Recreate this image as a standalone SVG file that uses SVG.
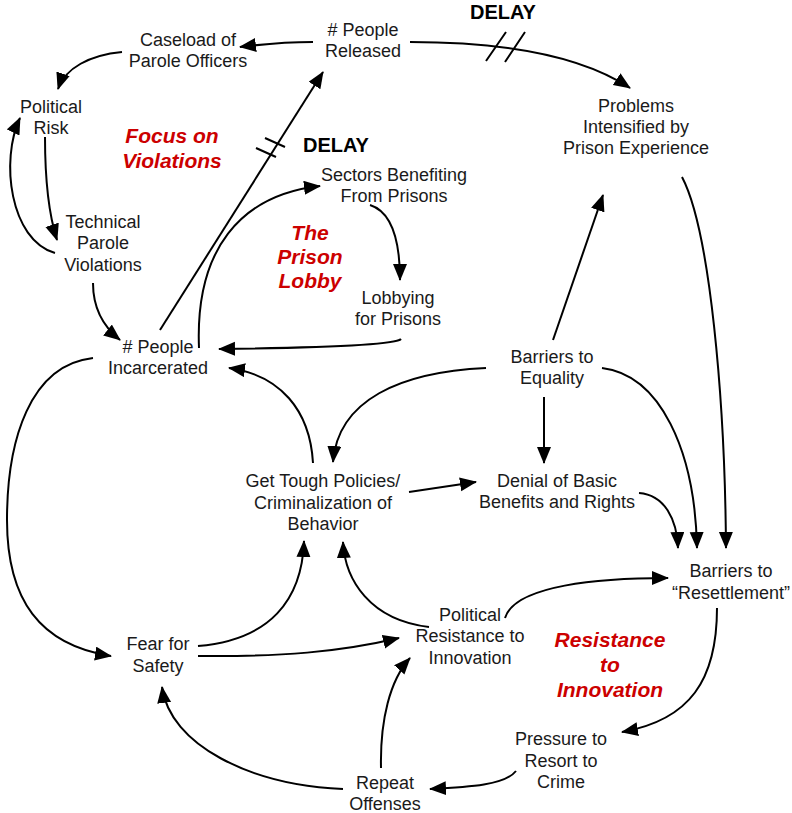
<svg xmlns="http://www.w3.org/2000/svg" width="792" height="813" viewBox="0 0 792 813">
<defs>
<marker id="ah" markerUnits="userSpaceOnUse" markerWidth="17" markerHeight="15" refX="16" refY="7" orient="auto" viewBox="0 0 17 15">
<path d="M0,0 L17,7 L0,14 z" fill="#000"/>
</marker>
<style>
.n{font-family:"Liberation Sans",Arial,Helvetica,sans-serif;font-size:18px;fill:#1a1a1a;text-anchor:middle}
.r{font-family:"Liberation Sans",Arial,Helvetica,sans-serif;font-size:21px;font-weight:bold;font-style:italic;fill:#cc0000;text-anchor:middle}
.d{font-family:"Liberation Sans",Arial,Helvetica,sans-serif;font-size:20px;font-weight:bold;fill:#000;text-anchor:middle}
.c{fill:none;stroke:#000;stroke-width:2;marker-end:url(#ah)}
.h{fill:none;stroke:#000;stroke-width:2}
</style>
</defs>
<rect width="792" height="813" fill="#fff"/>
<g id="connectors">
<path class="c" d="M313,42 Q280,42 240,47"/>
<path class="c" d="M122,52 C90,55 65,68 58,89"/>
<path class="c" d="M45,137 C45,180 48,212 57,240"/>
<path class="c" d="M55,253 C10,240 0,160 20,118"/>
<path class="c" d="M93,283 C93,310 105,328 120,340"/>
<path class="c" d="M160,330 L323,72"/>
<path class="h" d="M265,138 L285,147 M256,148 L276,157"/>
<path class="c" d="M410,42 Q560,42 630,88"/>
<path class="h" d="M486,61 L506,32 M505,62 L525,32"/>
<path class="c" d="M199,348 C195,250 240,195 320,186"/>
<path class="c" d="M370,205 C392,212 400,240 400,280"/>
<path class="c" d="M401,339 C395,346 300,348 219,349"/>
<path class="c" d="M313,463 C310,410 280,375 229,368"/>
<path class="c" d="M486,368 C400,372 338,400 333,462"/>
<path class="c" d="M553,340 L603,195"/>
<path class="c" d="M544,397 L544,463"/>
<path class="c" d="M602,368 C660,375 695,450 697,548"/>
<path class="c" d="M639,493 C665,495 677,520 678,548"/>
<path class="c" d="M682,177 C710,230 725,400 726,548"/>
<path class="c" d="M409,492 L476,482"/>
<path class="c" d="M93,358 C30,365 7,440 7,520 C7,600 40,645 111,656"/>
<path class="c" d="M198,646 C270,640 302,600 304,541"/>
<path class="c" d="M429,627 C370,620 345,580 343,542"/>
<path class="c" d="M198,656 C280,657 340,652 399,638"/>
<path class="c" d="M381,768 C380,720 390,680 410,658"/>
<path class="c" d="M343,789 C250,785 170,745 162,687"/>
<path class="c" d="M505,618 C515,585 600,578 668,578"/>
<path class="c" d="M717,608 C717,680 690,720 622,732"/>
<path class="c" d="M516,771 C505,785 470,787 430,789"/>
</g>
<g id="released"><text class="n" x="363" y="36"># People<tspan x="363" y="57">Released</tspan></text></g>
<g id="caseload"><text class="n" x="188" y="46">Caseload of<tspan x="188" y="67">Parole Officers</tspan></text></g>
<g id="political-risk"><text class="n" x="51" y="113">Political<tspan x="51" y="134">Risk</tspan></text></g>
<g id="technical"><text class="n" x="103" y="228">Technical<tspan x="103" y="249">Parole</tspan><tspan x="103" y="271">Violations</tspan></text></g>
<g id="incarcerated"><text class="n" x="158" y="353"># People<tspan x="158" y="374">Incarcerated</tspan></text></g>
<g id="sectors"><text class="n" x="394" y="181">Sectors Benefiting<tspan x="394" y="202">From Prisons</tspan></text></g>
<g id="lobbying"><text class="n" x="398" y="304">Lobbying<tspan x="398" y="325">for Prisons</tspan></text></g>
<g id="problems"><text class="n" x="636" y="112">Problems<tspan x="636" y="133">Intensified by</tspan><tspan x="636" y="154">Prison Experience</tspan></text></g>
<g id="equality"><text class="n" x="552" y="363">Barriers to<tspan x="552" y="384">Equality</tspan></text></g>
<g id="get-tough"><text class="n" x="323" y="487">Get Tough Policies/<tspan x="323" y="509">Criminalization of</tspan><tspan x="323" y="530">Behavior</tspan></text></g>
<g id="denial"><text class="n" x="557" y="487">Denial of Basic<tspan x="557" y="508">Benefits and Rights</tspan></text></g>
<g id="resettlement"><text class="n" x="731" y="577">Barriers to<tspan x="731" y="599">“Resettlement”</tspan></text></g>
<g id="resistance"><text class="n" x="470" y="621">Political<tspan x="470" y="642">Resistance to</tspan><tspan x="470" y="664">Innovation</tspan></text></g>
<g id="fear"><text class="n" x="158" y="650">Fear for<tspan x="158" y="672">Safety</tspan></text></g>
<g id="pressure"><text class="n" x="561" y="745">Pressure to<tspan x="561" y="767">Resort to</tspan><tspan x="561" y="788">Crime</tspan></text></g>
<g id="repeat"><text class="n" x="385" y="789">Repeat<tspan x="385" y="810">Offenses</tspan></text></g>
<g id="labels">
<text class="r" x="172" y="143">Focus on<tspan x="172" y="168">Violations</tspan></text>
<text class="r" x="310" y="240">The<tspan x="310" y="264">Prison</tspan><tspan x="310" y="288">Lobby</tspan></text>
<text class="r" x="610" y="647">Resistance<tspan x="610" y="672">to</tspan><tspan x="610" y="697">Innovation</tspan></text>
<text class="d" x="503" y="19">DELAY</text>
<text class="d" x="336" y="152">DELAY</text>
</g>
</svg>
